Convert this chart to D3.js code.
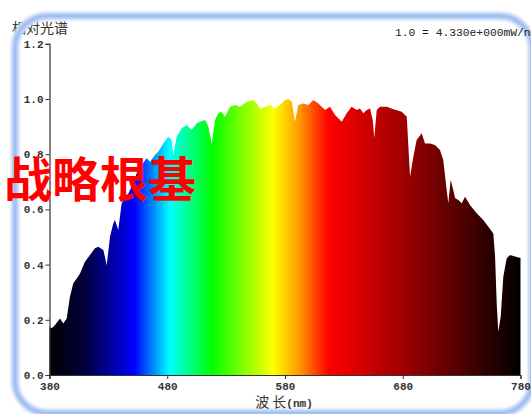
<!DOCTYPE html>
<html>
<head>
<meta charset="utf-8">
<script src="https://cdn.jsdelivr.net/npm/d3@7"></script>
<style>
  html, body { margin: 0; padding: 0; background: #fff; }
  svg { display: block; }
</style>
</head>
<body>
<svg id="chart" width="531" height="414"></svg>
<script>
// Relative spectral power, wavelength in nm
const wavelengths = [
  380, 381.9, 384.7, 388.9, 391.7, 394.6, 397.4, 400.2, 403.1, 405.9,
  410.1, 414.4, 418.6, 421.4, 425.7, 428.6, 431.4, 434.2, 435.6, 438.4,
  441.3, 445.6, 449.8, 454.1, 458.3, 462.5, 465.4, 469.6, 472.4, 476.6,
  480.9, 483.8, 485.1, 488, 492.3, 496.5, 500.8, 505, 507.8, 512.1,
  514.9, 517.8, 520.6, 523.4, 526.2, 529, 533.3, 537.5, 541.8, 547.5,
  553.1, 556, 558.8, 563, 567.3, 571.5, 575.8, 580, 582.8, 585.7,
  588.5, 591.3, 595.5, 599.8, 604, 608.3, 614, 618.2, 622.5, 628.2,
  632.4, 636.6, 640.9, 643.7, 646.5, 649.4, 652.2, 654.5, 655.8, 657.9,
  660.7, 666.4, 672, 679.1, 683.4, 686.2, 689, 691.8, 696.1, 698.9,
  703.1, 707.4, 711.6, 714.4, 717.3, 718.7, 720.7, 722.9, 724.4, 727.2,
  730.1, 732.9, 737.1, 742.8, 748.4, 752.7, 756.9, 758.4, 759.8, 761.1,
  763.2, 765.4, 768.3, 771.1, 775.3, 780
];
const intensity = [
  0.175, 0.169, 0.181, 0.205, 0.187, 0.205, 0.284, 0.332, 0.350, 0.368,
  0.410, 0.435, 0.459, 0.465, 0.453, 0.399, 0.501, 0.550, 0.562, 0.525,
  0.622, 0.646, 0.682, 0.731, 0.761, 0.785, 0.773, 0.797, 0.809, 0.839,
  0.863, 0.851, 0.797, 0.863, 0.894, 0.906, 0.888, 0.912, 0.918, 0.924,
  0.900, 0.839, 0.924, 0.948, 0.954, 0.936, 0.972, 0.978, 0.972, 0.990,
  0.996, 0.984, 0.966, 0.972, 0.978, 0.966, 0.978, 0.996, 1.000, 0.990,
  0.918, 0.978, 0.984, 0.978, 0.996, 0.984, 0.960, 0.972, 0.942, 0.918,
  0.948, 0.972, 0.960, 0.966, 0.948, 0.960, 0.966, 0.924, 0.858, 0.960,
  0.972, 0.972, 0.963, 0.954, 0.936, 0.718, 0.791, 0.851, 0.876, 0.839,
  0.839, 0.833, 0.815, 0.779, 0.670, 0.622, 0.707, 0.670, 0.641, 0.634,
  0.622, 0.646, 0.616, 0.586, 0.562, 0.537, 0.513, 0.429, 0.260, 0.157,
  0.211, 0.356, 0.423, 0.435, 0.429, 0.424
];

// Axis ticks
const xTicks = [380, 480, 580, 680, 780];
const yTicks = [0, 0.2, 0.4, 0.6, 0.8, 1.0, 1.2];

// Visible colour ramp used to fill the curve
const rampNm = [380, 410, 430, 452, 482, 518, 570, 592, 617, 700, 780];
const rampColor = ["#000000", "#00003c", "#000096", "#0000ff", "#00ffff", "#00ff00",
                   "#ffff00", "#ff9a00", "#ff0000", "#800000", "#000000"];

const svg = d3.select("#chart");

const x = d3.scaleLinear().domain([380, 780]).range([49.5, 520.5]);
const y = d3.scaleLinear().domain([0, 1.2]).range([375, 43.8]);

const monoFont = "'Liberation Mono', 'DejaVu Sans Mono', monospace";
const cjkFont = "'Noto Sans CJK SC', 'Noto Sans', sans-serif";

const defs = svg.append("defs");
const grad = defs.append("linearGradient")
  .attr("id", "spectrum")
  .attr("gradientUnits", "userSpaceOnUse")
  .attr("x1", x(380)).attr("x2", x(780))
  .attr("y1", 0).attr("y2", 0);
grad.selectAll("stop")
  .data(rampNm)
  .join("stop")
  .attr("offset", d => (d - 380) / 400)
  .attr("stop-color", (d, i) => rampColor[i]);

defs.append("filter").attr("id", "soft")
  .append("feGaussianBlur").attr("stdDeviation", 1.3);

// Chart title (its first glyph tucks under the frame)
svg.append("text")
  .attr("x", 12).attr("y", 33)
  .attr("fill", "#333")
  .style("font-family", cjkFont)
  .style("font-size", "14px")
  .text("相对光谱");

// Rounded frame
const frame = { x: 15, y: 16, w: 517, h: 397, r: 32 };
svg.append("rect")
  .attr("x", frame.x).attr("y", frame.y).attr("width", frame.w).attr("height", frame.h)
  .attr("rx", frame.r).attr("ry", frame.r)
  .attr("fill", "none")
  .attr("stroke", "#cfdefa")
  .attr("stroke-width", 9)
  .attr("filter", "url(#soft)");
svg.append("rect")
  .attr("x", frame.x).attr("y", frame.y).attr("width", frame.w).attr("height", frame.h)
  .attr("rx", frame.r).attr("ry", frame.r)
  .attr("fill", "none")
  .attr("stroke", "#9fbdf2")
  .attr("stroke-width", 4)
  .attr("filter", "url(#soft)");

// Spectrum area
const pts = wavelengths.map((w, i) => [w, intensity[i]]);
const area = d3.area()
  .x(d => x(d[0]))
  .y0(y(0))
  .y1(d => y(d[1]));
svg.append("path")
  .datum(pts)
  .attr("d", area)
  .attr("fill", "url(#spectrum)");

// Axes
const yAxis = svg.append("g")
  .attr("transform", `translate(${x(380)},0)`)
  .call(d3.axisLeft(y).tickValues(yTicks).tickFormat(d3.format(".1f")).tickSize(4).tickPadding(2));
const xAxis = svg.append("g")
  .attr("transform", `translate(0,${y(0)})`)
  .call(d3.axisBottom(x).tickValues(xTicks).tickFormat(d3.format("d")).tickSize(4).tickPadding(3));

[yAxis, xAxis].forEach(g => {
  g.select(".domain").attr("stroke", "#333").attr("stroke-width", 1.2);
  g.selectAll(".tick line").attr("stroke", "#333");
  g.selectAll(".tick text")
    .attr("fill", "#333")
    .style("font-family", monoFont)
    .style("font-size", "11px")
    .style("font-weight", "bold");
});

// Scale note and axis title
svg.append("text")
  .attr("x", 395).attr("y", 36)
  .attr("fill", "#222")
  .style("font-family", monoFont)
  .style("font-size", "11.3px")
  .text("1.0 = 4.330e+000mW/nm");

const xTitle = svg.append("text")
  .attr("x", 284).attr("y", 407)
  .attr("text-anchor", "middle")
  .attr("fill", "#333");
xTitle.append("tspan").style("font-family", cjkFont).style("font-size", "14px").text("波 长");
xTitle.append("tspan").style("font-family", monoFont).style("font-size", "11px").style("font-weight", "bold").text("(nm)");

// Red overlay text
svg.append("text")
  .attr("x", 4).attr("y", 197)
  .attr("fill", "#ff0000")
  .style("font-family", cjkFont)
  .style("font-size", "48px")
  .style("font-weight", "bold")
  .text("战略根基");
</script>
</body>
</html>
